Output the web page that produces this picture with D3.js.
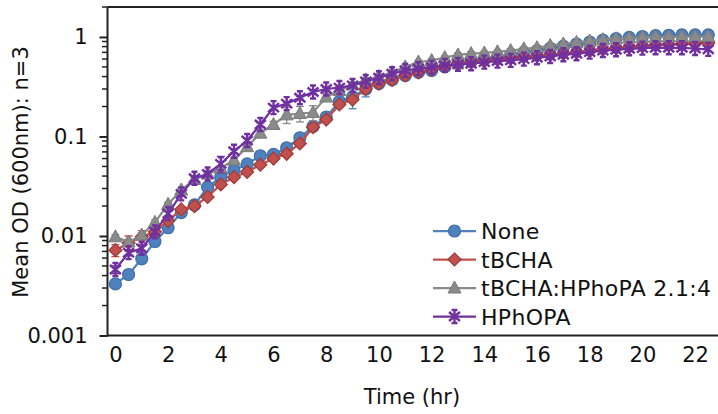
<!DOCTYPE html>
<html><head><meta charset="utf-8">
<script src="https://cdn.jsdelivr.net/npm/d3@7"></script>
<style>
html,body{margin:0;padding:0;background:#fff;}
svg{display:block;font-family:"DejaVu Sans",Verdana,sans-serif;}
</style></head>
<body><svg id="c" width="718" height="414"></svg>
<script>
const times = d3.range(0, 23, 0.5);
const seriesNames = ["None", "tBCHA", "tBCHA:HPhoPA 2.1:4", "HPhOPA"];
const noneVals = [0.0033,0.0041,0.0059,0.0088,0.0121,0.0172,0.0205,0.031,0.039,0.046,0.053,0.064,0.066,0.077,0.097,0.126,0.157,0.225,0.25,0.30,0.34,0.37,0.41,0.44,0.46,0.50,0.54,0.57,0.60,0.63,0.66,0.70,0.73,0.77,0.81,0.85,0.89,0.93,0.96,0.99,1.01,1.03,1.04,1.05,1.05,1.05];
const tbchaVals = [0.0072,0.0085,0.0098,0.011,0.0142,0.0185,0.020,0.0247,0.033,0.039,0.044,0.052,0.060,0.067,0.085,0.124,0.148,0.21,0.235,0.30,0.34,0.37,0.41,0.44,0.47,0.51,0.54,0.555,0.57,0.59,0.61,0.63,0.645,0.66,0.68,0.70,0.72,0.75,0.77,0.79,0.81,0.83,0.84,0.85,0.86,0.87];
const mixVals = [0.0098,0.0087,0.0102,0.0137,0.0208,0.029,0.037,0.042,0.048,0.058,0.079,0.108,0.132,0.165,0.170,0.174,0.249,0.29,0.33,0.37,0.40,0.44,0.50,0.56,0.58,0.62,0.66,0.68,0.69,0.71,0.73,0.76,0.78,0.82,0.85,0.88,0.91,0.94,0.96,0.98,0.99,1.00,1.00,1.01,1.01,1.01];
const hphopaVals = [0.0046,0.0068,0.0075,0.011,0.0168,0.0265,0.038,0.042,0.053,0.071,0.091,0.132,0.195,0.214,0.245,0.28,0.30,0.31,0.326,0.358,0.389,0.427,0.461,0.48,0.498,0.518,0.53,0.538,0.559,0.572,0.581,0.599,0.618,0.637,0.662,0.678,0.704,0.73,0.744,0.761,0.772,0.779,0.779,0.779,0.765,0.75];
const noneErr = [0.0002,0.0002,0.0003,0.0004,0.0005,0.0008,0.001,0.0015,0.002,0.002,0.002,0.003,0.003,0.003,0.004,0.005,0.006,0.01,0.06,0.05,0.03,0.02,0.02,0.02,0.02,0.02,0.02,0.02,0.02,0.02,0.02,0.02,0.02,0.02,0.02,0.02,0.02,0.02,0.02,0.02,0.03,0.03,0.03,0.03,0.03,0.03];
const tbchaErr = [0.001,0.0015,0.0015,0.0008,0.0008,0.0008,0.001,0.001,0.001,0.001,0.001,0.002,0.002,0.002,0.003,0.004,0.005,0.01,0.01,0.015,0.015,0.015,0.015,0.015,0.02,0.02,0.02,0.02,0.02,0.02,0.02,0.02,0.02,0.02,0.02,0.02,0.02,0.02,0.02,0.02,0.02,0.02,0.02,0.02,0.02,0.02];
const mixErr = [0.0005,0.0005,0.0006,0.0008,0.001,0.0015,0.002,0.002,0.002,0.003,0.004,0.006,0.01,0.03,0.03,0.03,0.02,0.015,0.015,0.015,0.02,0.02,0.02,0.025,0.025,0.025,0.03,0.03,0.03,0.03,0.03,0.03,0.03,0.03,0.03,0.03,0.035,0.035,0.035,0.035,0.035,0.035,0.035,0.035,0.035,0.035];
const hphopaErr = [0.0004,0.0005,0.0006,0.0006,0.001,0.0015,0.002,0.002,0.01,0.003,0.004,0.006,0.008,0.008,0.008,0.01,0.01,0.01,0.01,0.015,0.015,0.015,0.02,0.02,0.02,0.02,0.02,0.02,0.02,0.02,0.02,0.02,0.025,0.025,0.025,0.025,0.025,0.03,0.03,0.03,0.03,0.03,0.03,0.03,0.03,0.03];
const yTickVals = [0.001, 0.01, 0.1, 1];
const yTickLabels = ["0.001", "0.01", "0.1", "1"];
const xTickVals = [0,2,4,6,8,10,12,14,16,18,20,22];
const colors = ["#4F81BD", "#C0504D", "#8A8A8A", "#7030A0"];
const strokes = ["#3D6DA8", "#9E3B38", "#7A7A7A", "#7030A0"];
const markers = ["circle", "diamond", "triangle", "star"];

const series = seriesNames.map((n, i) => ({
  name: n,
  vals: [noneVals, tbchaVals, mixVals, hphopaVals][i],
  err: [noneErr, tbchaErr, mixErr, hphopaErr][i],
  color: colors[i], stroke: strokes[i], marker: markers[i]
}));

const svg = d3.select("#c");
const padL = 107.5, padT = 7, padB = 335.5;
const x = d3.scaleLinear().domain([-0.3, 23.25]).range([padL, padL + 23.55 * 26.35]);
const y = d3.scaleLog().domain([0.001, 2]).range([padB, padT]);

svg.append("defs").append("clipPath").attr("id", "clip")
  .append("rect").attr("x", padL).attr("y", 0).attr("width", 800).attr("height", padB + 4);

const yAxis = d3.axisLeft(y).tickValues(yTickVals).tickFormat((d, i) => yTickLabels[i]).tickSize(8).tickPadding(12);
const gy = svg.append("g").attr("transform", `translate(${padL},0)`).call(yAxis);
gy.select(".domain").remove();
gy.selectAll(".tick line").attr("stroke", "#222").attr("stroke-width", 2);
gy.selectAll(".tick text").attr("font-size", 21).attr("fill", "#111").attr("font-family", "DejaVu Sans");
const minors = [];
[0.001, 0.01, 0.1].forEach(b => { for (let k = 2; k <= 9; k++) minors.push(b * k); });
minors.push(2);
svg.append("g").selectAll("line").data(minors).join("line")
  .attr("x1", padL - 5.5).attr("x2", padL).attr("y1", d => y(d)).attr("y2", d => y(d))
  .attr("stroke", "#222").attr("stroke-width", 1.5);

const xAxis = d3.axisBottom(x).tickValues(xTickVals).tickSize(0).tickPadding(12).tickFormat(d3.format("d"));
const gx = svg.append("g").attr("transform", `translate(0,${padB})`).call(xAxis);
gx.select(".domain").remove();
gx.selectAll(".tick text").attr("font-size", 21).attr("fill", "#111").attr("font-family", "DejaVu Sans");

svg.append("line").attr("x1", padL).attr("x2", 718).attr("y1", padB).attr("y2", padB).attr("stroke", "#222").attr("stroke-width", 2);
svg.append("line").attr("x1", padL).attr("x2", padL).attr("y1", padT).attr("y2", padB + 1).attr("stroke", "#222").attr("stroke-width", 2);
svg.append("line").attr("x1", padL).attr("x2", 718).attr("y1", padT).attr("y2", padT).attr("stroke", "#222").attr("stroke-width", 1.8);

svg.append("text").attr("x", 412).attr("y", 404).attr("text-anchor", "middle").attr("font-size", 21).attr("fill", "#111").text("Time (hr)");
svg.append("text").attr("transform", "translate(28,172) rotate(-90)").attr("text-anchor", "middle").attr("font-size", 21).attr("fill", "#111").text("Mean OD (600nm): n=3");

function drawMarker(g, type, fill, stroke) {
  if (type === "circle") g.append("circle").attr("r", 6).attr("fill", fill).attr("stroke", stroke).attr("stroke-width", 1.2);
  else if (type === "diamond") g.append("path").attr("d", "M0,-6.5L6.5,0L0,6.5L-6.5,0Z").attr("fill", fill).attr("stroke", stroke).attr("stroke-width", 1.2);
  else if (type === "triangle") g.append("path").attr("d", "M0,-7L6.5,5L-6.5,5Z").attr("fill", fill).attr("stroke", stroke).attr("stroke-width", 1);
  else g.append("path").attr("d", "M0,-6.5V6.5M-5.5,-4.5L5.5,4.5M-5.5,4.5L5.5,-4.5M-3,-6.5H3M-3,6.5H3").attr("fill", "none").attr("stroke", stroke).attr("stroke-width", 2.4);
}

const plot = svg.append("g").attr("clip-path", "url(#clip)");
const line = d3.line().x(d => x(d.t)).y(d => y(d.v));
series.forEach(s => {
  const pts = times.map((t, i) => ({ t, v: s.vals[i], e: s.err[i] }));
  const g = plot.append("g");
  const eb = g.append("g").attr("stroke", s.color).attr("stroke-width", 1.3);
  pts.forEach(p => {
    const y1 = y(p.v + p.e), y2 = y(Math.max(p.v - p.e, 0.0011));
    eb.append("line").attr("x1", x(p.t)).attr("x2", x(p.t)).attr("y1", y1).attr("y2", y2);
    eb.append("line").attr("x1", x(p.t) - 4).attr("x2", x(p.t) + 4).attr("y1", y1).attr("y2", y1);
    eb.append("line").attr("x1", x(p.t) - 4).attr("x2", x(p.t) + 4).attr("y1", y2).attr("y2", y2);
  });
  g.append("path").datum(pts).attr("d", line).attr("fill", "none").attr("stroke", s.color).attr("stroke-width", 2.25);
  pts.forEach(p => {
    const m = g.append("g").attr("transform", `translate(${x(p.t)},${y(p.v)})`);
    drawMarker(m, s.marker, s.color, s.stroke);
  });
});

const lg = svg.append("g");
const legY = [231, 259.5, 288, 316.5];
series.forEach((s, i) => {
  const gg = lg.append("g").attr("transform", `translate(0,${legY[i]})`);
  gg.append("line").attr("x1", 433).attr("x2", 476).attr("y1", 0).attr("y2", 0).attr("stroke", s.color).attr("stroke-width", 2.25);
  const m = gg.append("g").attr("transform", "translate(454.5,0)");
  drawMarker(m, s.marker, s.color, s.stroke);
  gg.append("text").attr("x", 481).attr("y", 8).attr("font-size", 22).attr("letter-spacing", 0.3).attr("fill", "#111").text(s.name);
});
</script></body></html>
